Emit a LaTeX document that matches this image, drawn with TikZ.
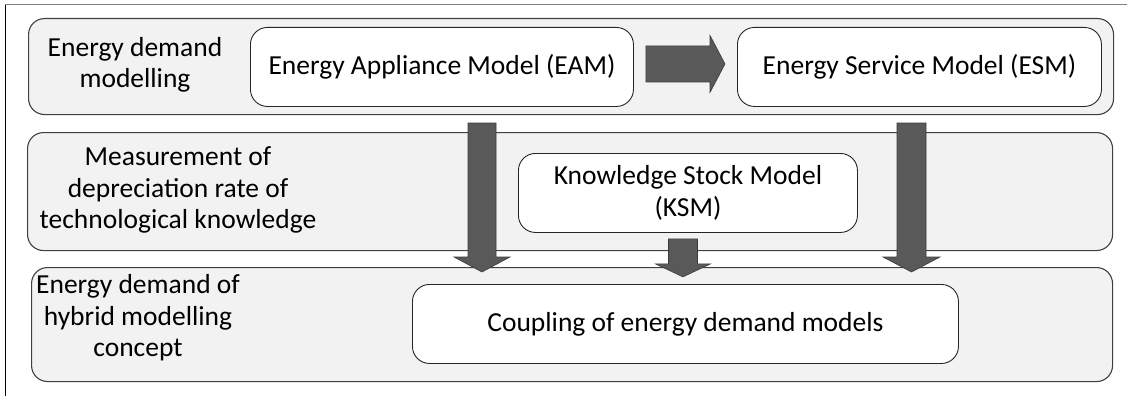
\documentclass[tikz,border=0pt]{standalone}
\usepackage{fontspec}
\setmainfont{Carlito}
\usetikzlibrary{calc}

\definecolor{bandfill}{HTML}{F2F2F2}
\definecolor{bandline}{HTML}{404040}
\definecolor{boxline}{HTML}{262626}
\definecolor{arrowfill}{HTML}{595959}
\definecolor{arrowline}{HTML}{3A3A3A}
\definecolor{frameline}{HTML}{808080}

\tikzset{
  band/.style={draw=bandline, fill=bandfill, line width=1.1pt, rounded corners=16pt,
    anchor=north west, inner sep=0pt},
  modelbox/.style={draw=boxline, fill=white, line width=0.9pt, rounded corners=17pt,
    anchor=north west, inner sep=0pt, align=center},
  bandlabel/.style={align=center, inner sep=0pt},
  fatarrow/.style={fill=arrowfill, draw=arrowline, line width=0.6pt, line join=miter},
}

% block arrow pointing down: start, tip, body half width, head half width, head length
\newcommand\blockdown[5]{%
  \path[fatarrow] ($(#1)+(-#3,0)$) -- ($(#1)+(#3,0)$) -- ($(#2)+(#3,-#5)$)
    -- ($(#2)+(#4,-#5)$) -- (#2) -- ($(#2)+(-#4,-#5)$) -- ($(#2)+(-#3,-#5)$) -- cycle;}
% block arrow pointing right: start, tip, body half height, head half height, head length
\newcommand\blockright[5]{%
  \path[fatarrow] ($(#1)+(0,-#3)$) -- ($(#2)+(-#5,-#3)$) -- ($(#2)+(-#5,-#4)$)
    -- (#2) -- ($(#2)+(-#5,#4)$) -- ($(#2)+(-#5,#3)$) -- ($(#1)+(0,#3)$) -- cycle;}

\begin{document}
\begin{tikzpicture}[x=1pt, y=-1pt, font=\fontsize{27.5}{31.5}\selectfont]
\useasboundingbox (0,0) rectangle (1127,396);

% outer frame: top and left edges only
\draw[frameline, line width=1pt] (5,5) -- (1127,5);
\draw[black, line width=1pt] (5,5) -- (5,396);

% the three layers
\node[band, minimum width=1085pt, minimum height=96pt] (band1) at (28,18) {};
\node[band, minimum width=1085pt, minimum height=118pt] (band2) at (27,132) {};
\node[band, minimum width=1081pt, minimum height=114pt] (band3) at (31,267) {};

% layer captions
\node[bandlabel] (lab1) at (135,65) {Energy demand\\modelling};
\node[bandlabel] (lab2) at (178,190) {Measurement of\\depreciation rate of\\technological knowledge};
\node[bandlabel] (lab3) at (138,318) {Energy demand of\\hybrid modelling\\concept};

% models
\node[modelbox, minimum width=383pt, minimum height=79pt] (eam) at (250,27) {Energy Appliance Model (EAM)};
\node[modelbox, minimum width=364pt, minimum height=79pt] (esm) at (737,27) {Energy Service Model (ESM)};
\node[modelbox, minimum width=339pt, minimum height=79pt] (ksm) at (518,153) {Knowledge Stock Model\\(KSM)};
\node[modelbox, minimum width=546pt, minimum height=79pt] (cpl) at (412,284) {Coupling of energy demand models};

% connector end points
\coordinate (eamR) at ($(eam.east)+(12,-3)$);
\coordinate (esmL) at ($(esm.west)+(-12,-3)$);
\coordinate (eamD) at (482,123);
\coordinate (eamT) at (482,272);
\coordinate (ksmD) at ($(ksm.south)+(-5,6)$);
\coordinate (ksmT) at ($(ksm.south)+(-5,44)$);
\coordinate (esmD) at (911.5,123);
\coordinate (esmT) at (911.5,272);

% block arrows
\blockright{eamR}{esmL}{18}{28.5}{15}
\blockdown{eamD}{eamT}{14}{28}{15}
\blockdown{ksmD}{ksmT}{14.5}{27.5}{13}
\blockdown{esmD}{esmT}{14.5}{28.5}{15}
\end{tikzpicture}
\end{document}
